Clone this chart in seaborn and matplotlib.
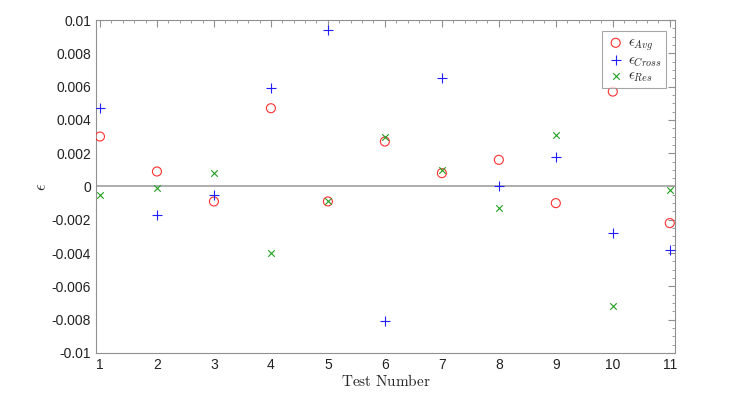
import numpy as np
import pandas as pd
import matplotlib
matplotlib.use('Agg')
import matplotlib.pyplot as plt
from matplotlib.ticker import MultipleLocator
import seaborn as sns

# Data
tests = [1, 2, 3, 4, 5, 6, 7, 8, 9, 10, 11]
eps_avg = [0.0030, 0.0009, -0.0009, 0.0047, -0.0009, 0.0027, 0.0008, 0.0016, -0.0010, 0.0057, -0.0022]
eps_cross = [0.0047, -0.0017, -0.0005, 0.0059, 0.0094, -0.0081, 0.0065, 0.0000, 0.0018, -0.0028, -0.0038]
eps_res = [-0.0005, -0.0001, 0.0008, -0.0040, -0.0009, 0.0030, 0.0010, -0.0013, 0.0031, -0.0072, -0.0002]

sns.set_style('white')
plt.rcParams['font.family'] = ['Liberation Sans', 'DejaVu Sans']
plt.rcParams['mathtext.fontset'] = 'cm'

df = pd.DataFrame({'test': tests, 'avg': eps_avg, 'cross': eps_cross, 'res': eps_res})

fig = plt.figure(figsize=(7.36, 3.97), dpi=100)
ax = fig.add_axes([0.1304, 0.111, 0.7866, 0.8386])

ax.axhline(0, color='#a0a0a0', linewidth=1.2, zorder=1)

sns.scatterplot(data=df, x='test', y='avg', marker='o', s=42, facecolors='none',
                edgecolor='#ff3030', linewidth=0.8, label=r'$\epsilon_{Avg}$', ax=ax, zorder=3)
sns.scatterplot(data=df, x='test', y='cross', marker='+', s=48, color='#2020ff',
                linewidth=0.8, label=r'$\epsilon_{Cross}$', ax=ax, zorder=3)
sns.scatterplot(data=df, x='test', y='res', marker='x', s=22, color='#20a020',
                linewidth=0.8, label=r'$\epsilon_{Res}$', ax=ax, zorder=3)

ax.set_xlim(0.93, 11.09)
ax.set_ylim(-0.01, 0.01)
ax.set_xticks(tests)
ax.set_yticks(np.arange(-0.01, 0.0101, 0.002))
ax.set_yticklabels(['-0.01', '-0.008', '-0.006', '-0.004', '-0.002', '0',
                    '0.002', '0.004', '0.006', '0.008', '0.01'])
ax.xaxis.set_minor_locator(MultipleLocator(0.2))
ax.yaxis.set_minor_locator(MultipleLocator(0.0005))
ax.tick_params(which='both', direction='in', top=True, right=True, color='#909090',
               labelsize=10, labelcolor='#222222')
ax.tick_params(which='major', length=5)
ax.tick_params(which='minor', length=2.5)
for sp in ax.spines.values():
    sp.set_color('#909090')
    sp.set_linewidth(0.8)

ax.set_xlabel(r'$\mathrm{Test\ Number}$', fontsize=11, labelpad=1)
ax.set_ylabel(r'$\epsilon$', fontsize=12, labelpad=2)

leg = ax.legend(loc='upper right', bbox_to_anchor=(0.99, 0.975), fontsize=10.5, frameon=True,
                fancybox=False, edgecolor='#909090', handletextpad=0.2, borderpad=0.3,
                labelspacing=0.0, handlelength=1.3, borderaxespad=0.2)
leg.get_frame().set_linewidth(0.8)

plt.savefig('out.png', dpi=100)
